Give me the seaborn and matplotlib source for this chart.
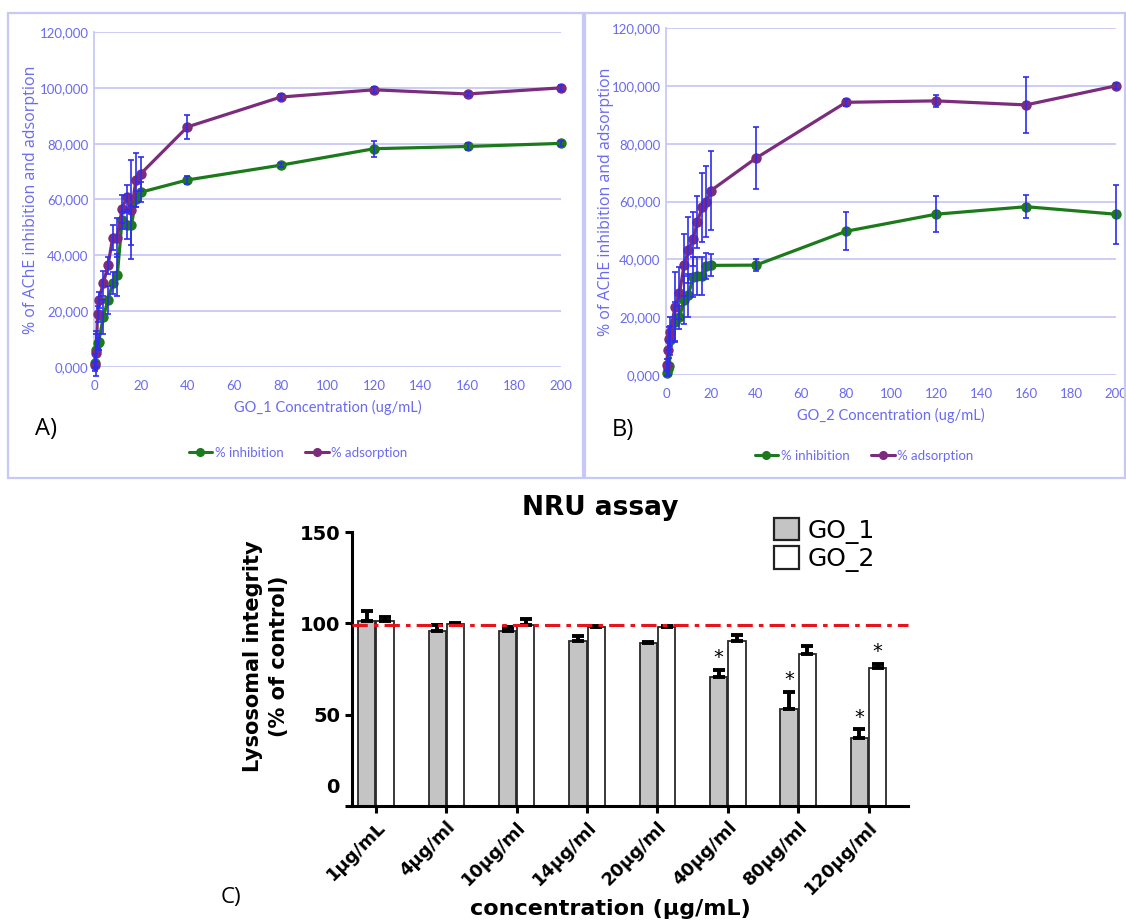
import numpy as np
import pandas as pd
import matplotlib
matplotlib.use("Agg")
import matplotlib.pyplot as plt
import seaborn as sns
from matplotlib.patches import Rectangle, Patch
from matplotlib.lines import Line2D
from matplotlib.ticker import FuncFormatter

# concentrations (ug/mL) used in panels A and B
conc = [0.25, 1, 1.5, 2, 4, 6, 8, 10, 12, 14, 16, 18, 20, 40, 80, 120, 160, 200]

# panel A - GO_1
go1_inhib = [1.5, 6, 8.5, 9, 18, 24, 30, 33, 52.5, 50.7, 50.7, 60.2, 62.6, 67, 72.3, 78.2, 79, 80.1]
go1_inhib_err = [3, 6, 2, 3, 6, 5, 4, 7.5, 3, 5, 7, 3, 3.5, 1.3, 0.8, 2.8, 1.3, 0.8]
go1_adsorp = [0.7, 4.9, 19, 24, 30, 36.4, 46.3, 46.3, 56.7, 60.8, 56.3, 67, 69.2, 86, 96.7, 99.3, 97.8, 100]
go1_adsorp_err = [1, 8, 3, 3, 4.5, 3, 4.5, 7, 5, 4.5, 17.7, 9.6, 6, 4.4, 1, 1, 0.8, 1]

# panel B - GO_2
go2_inhib = [0.8, 2, 3, 12, 18.4, 19.9, 25.9, 27.6, 33.9, 34.1, 34.1, 37.7, 37.9, 38, 49.7, 55.6, 58.2, 55.6]
go2_inhib_err = [1, 2, 3, 5, 6.9, 4, 8.3, 7.5, 6.9, 6.6, 6.6, 4.5, 3.8, 2.1, 6.6, 6.2, 4, 10.2]
go2_adsorp = [3.4, 8.6, 12.6, 15, 23.6, 28.2, 38, 43.3, 47, 52.9, 58, 60, 63.8, 75, 94.3, 94.8, 93.4, 100]
go2_adsorp_err = [2, 3, 4, 5, 12, 9, 10.6, 11.5, 9.4, 9, 12, 12.3, 13.6, 10.7, 1.2, 2, 9.7, 1]

# panel C - NRU assay
doses = ["1µg/mL", "4µg/ml", "10µg/ml", "14µg/ml", "20µg/ml", "40µg/ml", "80µg/ml", "120µg/ml"]
go1_nru = [101.5, 96, 95.6, 90.5, 89, 70.4, 53, 37]
go1_nru_err = [5, 3, 2.2, 2.5, 1, 4, 9.5, 5]
go2_nru = [101.3, 99.5, 99, 97.8, 98.2, 90.5, 83, 75.7]
go2_nru_err = [2.4, 0.5, 3.2, 0.7, 0.5, 3.1, 4.6, 2]
go1_sig = [False, False, False, False, False, True, True, True]
go2_sig = [False, False, False, False, False, False, False, True]
control_level = 99

GREEN = "#1c7a1c"
PURPLE = "#7b2c7c"
ERR = "#2d2df0"
TXT = "#6a6af0"
GRID = "#c8c8f6"

sns.set_style("white")
plt.rcParams["font.family"] = ["Lato", "DejaVu Sans"]
plt.rcParams["text.color"] = "black"
plt.rcParams["axes.labelcolor"] = "black"
plt.rcParams["xtick.color"] = "black"
plt.rcParams["ytick.color"] = "black"

W, H = 1126, 924
fig = plt.figure(figsize=(W / 100, H / 100), dpi=100)


def box(l, t, r, b):
    return [l / W, 1 - b / H, (r - l) / W, (b - t) / H]


ax_a = fig.add_axes(box(94, 32, 561, 367))
ax_b = fig.add_axes(box(666, 28, 1116, 375))
ax_c = fig.add_axes(box(352, 532, 908, 806))

# panel frames
for l, t, r, b in [(8, 13, 583, 478), (585, 13, 1125, 478)]:
    fig.add_artist(Rectangle((l / W, 1 - b / H), (r - l) / W, (b - t) / H,
                             transform=fig.transFigure, fill=False, ec=GRID, lw=1.6))

comma_fmt = FuncFormatter(lambda v, p: f"{v:.3f}".replace(".", ","))


def draw_lines(ax, inhib, inhib_err, ads, ads_err, xlabel, ylab_x):
    n = len(conc)
    df = pd.DataFrame({"conc": conc * 2,
                       "value": inhib + ads,
                       "series": ["% inhibition"] * n + ["% adsorption"] * n})
    sns.lineplot(data=df, x="conc", y="value", hue="series",
                 palette={"% inhibition": GREEN, "% adsorption": PURPLE},
                 marker="o", markersize=7.5, markeredgewidth=0, linewidth=2.3,
                 ax=ax, legend=False, clip_on=False, zorder=4)
    for vals, errs in [(inhib, inhib_err), (ads, ads_err)]:
        ax.errorbar(conc, vals, yerr=errs, fmt="none", ecolor=ERR,
                    elinewidth=1.2, capsize=2.5, capthick=1.2, zorder=5, clip_on=False)
    ax.set_xlim(0, 200)
    ax.set_ylim(0, 120)
    ax.set_xticks(np.arange(0, 201, 20))
    ax.set_yticks(np.arange(0, 121, 20))
    ax.yaxis.set_major_formatter(comma_fmt)
    ax.yaxis.grid(True, color=GRID, lw=1.3)
    ax.xaxis.grid(False)
    ax.set_axisbelow(True)
    for s in ["top", "right", "bottom"]:
        ax.spines[s].set_visible(False)
    ax.spines["left"].set_color(GRID)
    ax.spines["left"].set_linewidth(1.3)
    ax.tick_params(axis="both", length=0, labelcolor=TXT, labelsize=9.5)
    ax.tick_params(axis="x", pad=9)
    ax.tick_params(axis="y", pad=4)
    ax.set_xlabel(xlabel, color=TXT, fontsize=10.5, labelpad=6)
    ax.set_ylabel("% of AChE inhibition and adsorption", color=TXT, fontsize=11.5,
                  family=["Open Sans", "DejaVu Sans"])
    ax.yaxis.set_label_coords(ylab_x, 0.5)


draw_lines(ax_a, go1_inhib, go1_inhib_err, go1_adsorp, go1_adsorp_err,
           "GO_1 Concentration (ug/mL)", -(94 - 39) / 467)
draw_lines(ax_b, go2_inhib, go2_inhib_err, go2_adsorp, go2_adsorp_err,
           "GO_2 Concentration (ug/mL)", -(666 - 614) / 450)

line_handles = [Line2D([], [], color=GREEN, marker="o", markersize=5.5, lw=2.2),
                Line2D([], [], color=PURPLE, marker="o", markersize=5.5, lw=2.2)]
for cx, cy in [(298, 453), (864, 456)]:
    fig.legend(line_handles, ["% inhibition", "% adsorption"], loc="center",
               bbox_to_anchor=(cx / W, 1 - cy / H), ncol=2, frameon=False,
               fontsize=9.5, labelcolor=TXT, handlelength=1.8, handletextpad=0.2,
               columnspacing=1.6)

fig.text(35 / W, 1 - 429 / H, "A)", fontsize=17, va="center", family=["Open Sans", "DejaVu Sans"])
fig.text(612 / W, 1 - 430 / H, "B)", fontsize=17, va="center", family=["Open Sans", "DejaVu Sans"])
fig.text(221 / W, 1 - 897 / H, "C)", fontsize=16, va="center", family=["Open Sans", "DejaVu Sans"])

# ---- panel C ----
BOLDF = ["DejaVu Sans"]
df_c = pd.DataFrame({"dose": doses * 2,
                     "value": go1_nru + go2_nru,
                     "group": ["GO_1"] * len(doses) + ["GO_2"] * len(doses)})
sns.barplot(data=df_c, x="dose", y="value", hue="group", order=doses,
            hue_order=["GO_1", "GO_2"], palette={"GO_1": "#c4c4c4", "GO_2": "white"},
            edgecolor="#2a2a2a", linewidth=1.3, width=0.52, gap=0.06,
            errorbar=None, ax=ax_c, legend=False)

for cont, err, sig in zip(ax_c.containers, [go1_nru_err, go2_nru_err], [go1_sig, go2_sig]):
    xs = [p.get_x() + p.get_width() / 2 for p in cont]
    ys = [p.get_height() for p in cont]
    ax_c.errorbar(xs, ys, yerr=[np.zeros(len(err)), err], fmt="none", ecolor="black",
                  elinewidth=2.8, capsize=4, capthick=2.8, zorder=3)
    for xx, yy, e, s in zip(xs, ys, err, sig):
        if s:
            ax_c.text(xx, yy + e + 1.5, "*", ha="center", va="bottom", fontsize=14,
                      family=BOLDF)

ax_c.axhline(control_level, color="#e8141c", lw=2.2, ls=(0, (5, 2, 1.5, 2)), zorder=4,
             clip_on=False)
ax_c.set_xlim(-0.34, 7.56)
ax_c.set_ylim(0, 150)
ax_c.set_yticks([0, 50, 100, 150])
ax_c.set_yticklabels(["", "50", "100", "150"])
ax_c.annotate("0", xy=(0, 0), xycoords=("axes fraction", "data"), xytext=(-9, 13),
              textcoords="offset points", ha="right", va="center", fontsize=14,
              fontweight="bold", family=BOLDF)
for s in ["top", "right"]:
    ax_c.spines[s].set_visible(False)
for s in ["left", "bottom"]:
    ax_c.spines[s].set_color("black")
    ax_c.spines[s].set_linewidth(2.2)
ax_c.tick_params(axis="both", direction="out", length=5, width=2.2, color="black",
                 labelcolor="black", bottom=True, left=True)
for lab in ax_c.get_yticklabels():
    lab.set_fontsize(14)
    lab.set_fontweight("bold")
    lab.set_family(BOLDF)
ax_c.set_xticks(range(len(doses)))
ax_c.set_xticklabels(doses, rotation=45, ha="right", rotation_mode="anchor",
                     fontsize=13, fontweight="bold", family=BOLDF)
ax_c.set_xlabel("concentration (µg/mL)", fontsize=16, fontweight="bold", family=BOLDF)
ax_c.xaxis.set_label_coords((610 - 352) / 556, -(899 - 806) / 274)
ax_c.set_ylabel("Lysosomal integrity\n(% of control)", fontsize=15, fontweight="bold",
                family=BOLDF, linespacing=1.35)
ax_c.yaxis.set_label_coords(-(352 - 289) / 556, (806 - 656) / 274)

fig.text(600 / W, 1 - 508 / H, "NRU assay", ha="center", va="center", fontsize=19,
         fontweight="bold", family=BOLDF)

bar_handles = [Patch(fc="#c4c4c4", ec="#222222", lw=1.6), Patch(fc="white", ec="#222222", lw=1.6)]
fig.legend(bar_handles, ["GO_1", "GO_2"], loc="upper left",
           bbox_to_anchor=(764 / W, 1 - 508 / H), frameon=False,
           prop={"family": BOLDF, "size": 18}, handlelength=1.0, handleheight=1.0,
           handletextpad=0.35, labelspacing=0.1, borderaxespad=0)

fig.savefig("out.png", dpi=100)
